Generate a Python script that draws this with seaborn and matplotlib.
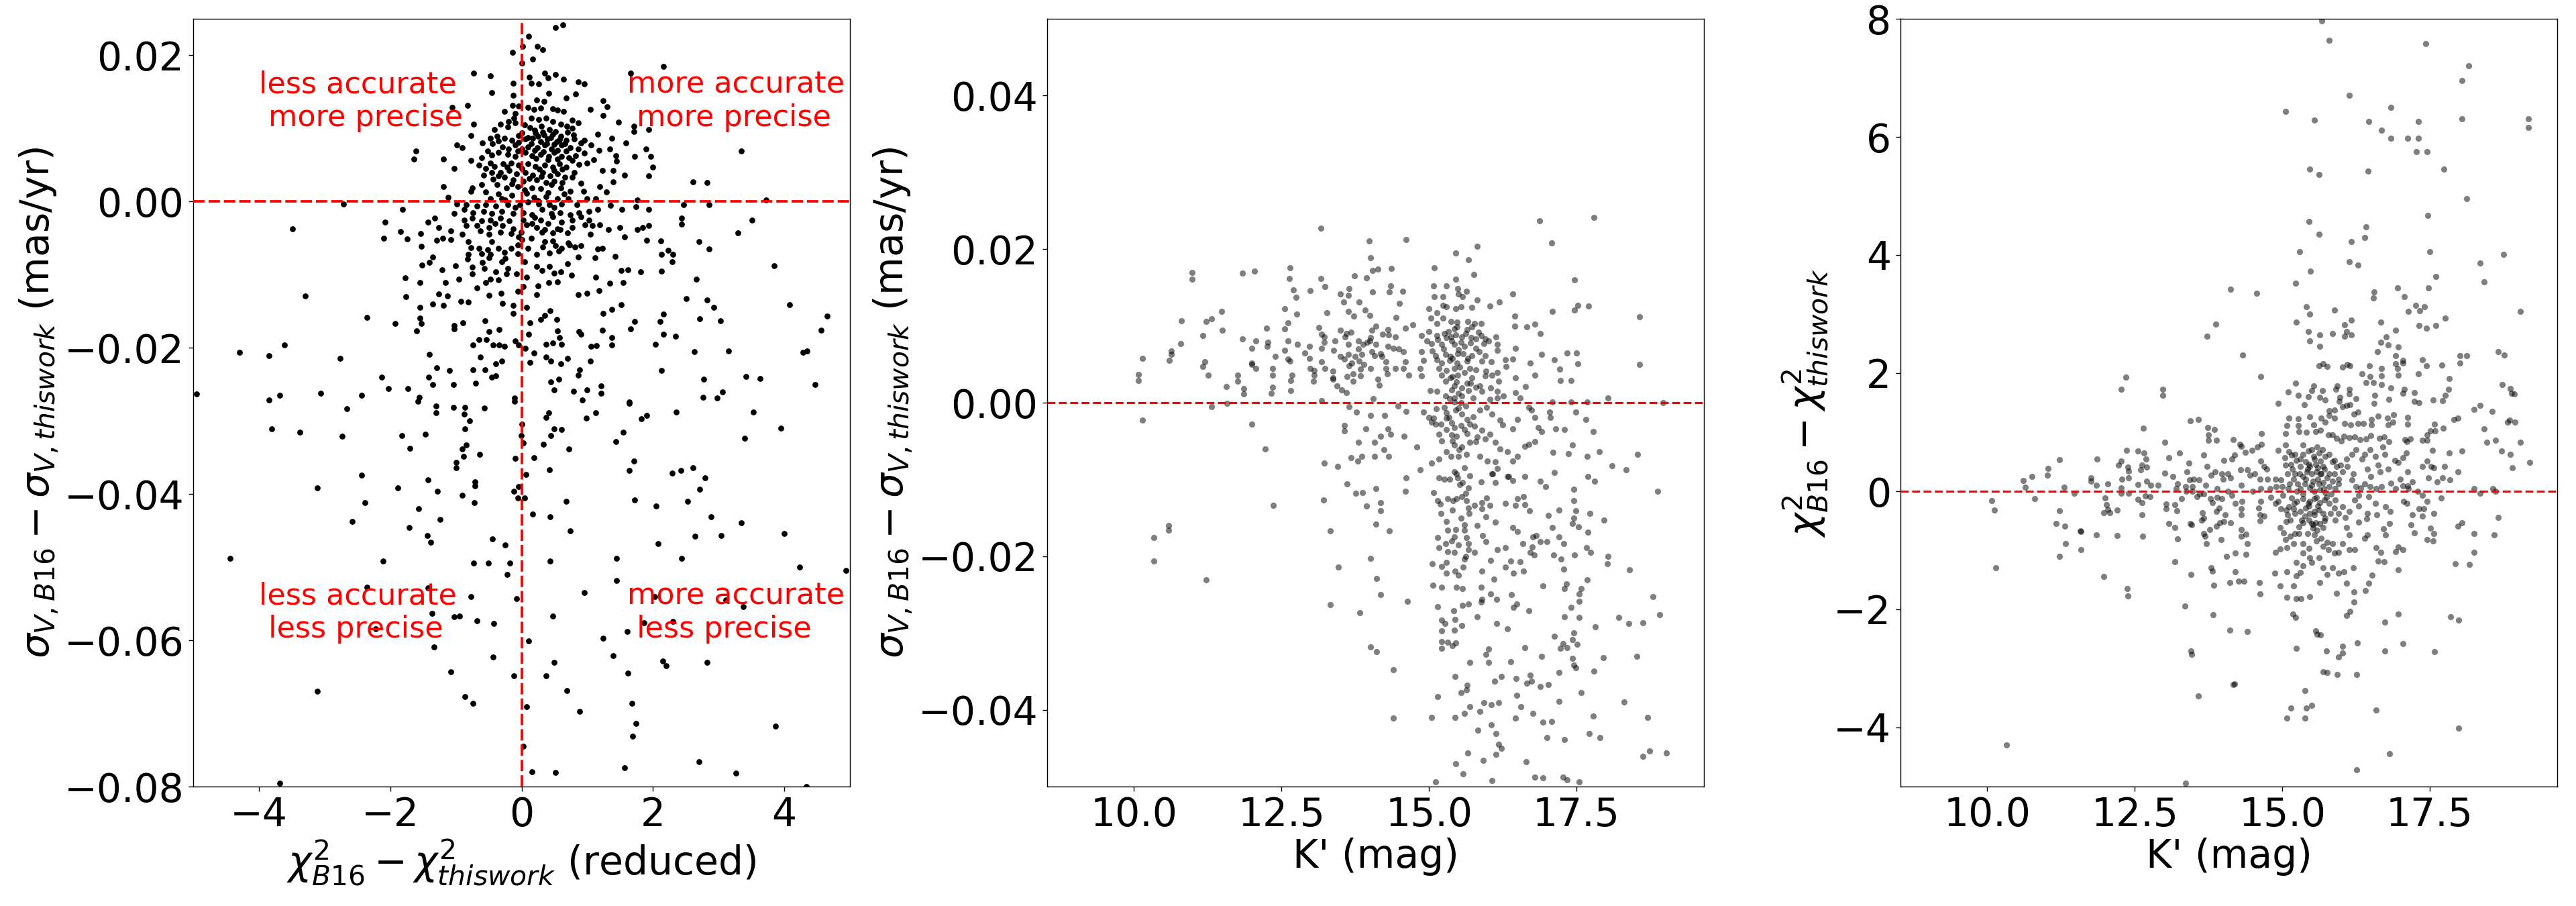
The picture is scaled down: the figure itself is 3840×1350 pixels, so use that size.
import matplotlib
matplotlib.use("Agg")
import matplotlib.pyplot as plt
import seaborn as sns
import pandas as pd

# ---------------- data ----------------
# Panel 1: (chi2_B16 - chi2_thiswork, sigma_B16 - sigma_thiswork)
p1_points = [
(0.63,0.0242),(0.52,0.0238),(0.11,0.0226),(0.02,0.0212),(0.24,0.0212),(0.32,0.0208),(-0.14,0.0204),(0.17,0.0195),(0.0,0.0189),(2.16,0.0185),
(-0.73,0.0176),(-0.47,0.0172),(0.35,0.0176),(0.52,0.0174),(1.66,0.0176),(0.12,0.0170),(0.64,0.0167),(0.86,0.0164),(0.96,0.0161),(-0.13,0.0162),
(0.15,0.0162),(0.26,0.0161),(0.4,0.0169),(-0.45,0.0149),(0.41,0.0148),(0.82,0.0147),(-0.13,0.0145),(0.23,0.0139),(0.34,0.0137),(0.68,0.0142),
(1.24,0.0138),(-0.82,0.0132),(-1.06,0.0129),(-0.14,0.0132),(-0.05,0.0131),(0.1,0.0129),(0.19,0.0126),(0.29,0.0128),(0.47,0.0127),(0.55,0.0125),
(1.05,0.0126),(1.3,0.0130),(-0.26,0.0123),(-0.1,0.0121),(0.64,0.0123),(1.24,0.0118),(-0.12,0.0114),(0.15,0.0114),(0.26,0.0112),(0.37,0.0114),
(0.48,0.0110),(0.6,0.0106),(0.77,0.0111),(0.86,0.0108),(1.48,0.0109),(-0.73,0.0106),(-0.32,0.0106),(-0.21,0.0102),(-0.1,0.0108),(0.13,0.0101),
(0.3,0.0103),(0.42,0.0099),(0.69,0.0103),(0.77,0.0100),(1.71,0.0103),(1.94,0.0099),(1.71,0.0096),(-0.77,0.0090),(-0.41,0.0099),(0.0,0.0094),
(0.21,0.0094),(0.34,0.0091),(0.48,0.0092),(0.6,0.0089),(0.79,0.0091),(1.16,0.0092),(-0.48,0.0087),(-0.37,0.0089),(-0.26,0.0087),(-0.15,0.0084),
(0.06,0.0086),(0.17,0.0087),(0.29,0.0082),(0.39,0.0086),(0.54,0.0082),(0.68,0.0084),(0.9,0.0080),(1.37,0.0087),(1.59,0.0080),(-0.99,0.0077),
(-0.9,0.0074),(-0.44,0.0079),(-0.29,0.0075),(-0.1,0.0077),(0.1,0.0075),(0.24,0.0074),(0.35,0.0077),(0.45,0.0072),(0.61,0.0077),(0.74,0.0074),
(0.86,0.0072),(1.06,0.0077),(1.18,0.0070),(1.34,0.0072),(1.89,0.0072),(3.35,0.0069),(-1.61,0.0069),(-1.64,0.0058),(-1.19,0.0058),(-0.61,0.0060),
(-0.52,0.0069),(-0.35,0.0067),(-0.21,0.0065),(-0.06,0.0069),(0.06,0.0067),(0.16,0.0063),(0.29,0.0065),(0.41,0.0062),(0.5,0.0067),(0.61,0.0062),
(0.72,0.0060),(0.82,0.0063),(1.0,0.0053),(1.1,0.0057),(1.44,0.0063),(1.72,0.0062),(1.97,0.0062),(-0.77,0.0056),(-0.48,0.0053),(-0.41,0.0048),
(-0.28,0.0052),(-0.16,0.0053),(-0.05,0.0050),(0.1,0.0052),(0.21,0.0048),(0.35,0.0050),(0.47,0.0047),(0.58,0.0052),(0.68,0.0047),(0.87,0.0051),
(1.45,0.0055),(-1.03,0.0045),(-0.55,0.0045),(-0.32,0.0040),(-0.19,0.0043),(-0.08,0.0038),(0.06,0.0040),(0.17,0.0036),(0.32,0.0040),(0.43,0.0035),
(0.55,0.0038),(0.66,0.0033),(1.23,0.0043),(1.39,0.0043),(2.0,0.0047),(-0.58,0.0036),(-0.43,0.0031),(-0.26,0.0033),(-0.13,0.0030),(0.03,0.0028),
(0.23,0.0030),(0.37,0.0026),(0.5,0.0028),(0.77,0.0033),(1.57,0.0036),(1.94,0.0035),(2.61,0.0027),(2.82,0.0026),(-1.19,0.0021),(-0.75,0.0019),
(-0.61,0.0023),(-0.37,0.0023),(-0.23,0.0019),(-0.06,0.0021),(0.16,0.0019),(0.29,0.0018),(0.45,0.0023),(0.6,0.0019),(0.74,0.0014),(0.94,0.0014),
(1.19,0.0021),(1.29,0.0013),(1.39,0.0027),(-0.77,0.0014),(-0.55,0.0013),(-0.48,0.0004),(-0.3,0.0004),(-0.15,0.0009),(0.08,0.0011),(0.19,0.0006),
(0.37,0.0007),(0.55,0.0004),(0.71,0.0004),(1.0,0.0004),(-1.12,0.0006),(-0.99,-0.0003),(-0.84,-0.0004),(-0.68,-0.0006),(-0.55,-0.0004),(-0.39,-0.0006),
(-0.21,-0.0004),(-0.03,-0.0004),(0.1,-0.0001),(0.26,-0.0003),(0.42,-0.0004),(0.61,-0.0003),(0.84,-0.0004),(1.13,0.0004),(1.76,0.0002),(3.72,0.0002),
(-2.71,-0.0003),(2.47,-0.0004),(2.85,-0.0004),(1.35,-0.0005),(1.74,-0.0007),(-1.81,-0.0011),(-1.03,-0.0016),(-0.87,-0.0011),(-0.74,-0.0015),(-0.58,-0.0013),
(-0.45,-0.0016),(-0.3,-0.0013),(-0.13,-0.0016),(0.03,-0.0015),(0.16,-0.0018),(0.31,-0.0011),(0.45,-0.0016),(0.59,-0.0015),(0.74,-0.0018),(0.87,-0.0015),
(1.03,-0.0013),(1.16,-0.0011),(1.53,-0.0011),(1.94,-0.0011),(-2.08,-0.0028),(-1.43,-0.0028),(-1.32,-0.0023),(-0.87,-0.0025),(-0.75,-0.0023),(-0.61,-0.0026),
(-0.48,-0.0025),(-0.32,-0.0023),(-0.19,-0.0026),(0.03,-0.0025),(0.16,-0.0030),(0.29,-0.0025),(0.48,-0.0021),(0.61,-0.0028),(0.77,-0.0025),(0.9,-0.0021),
(1.03,-0.0025),(2.44,-0.0023),(3.51,-0.0025),(-3.49,-0.0037),(-1.26,-0.0035),(-0.84,-0.0033),(-0.68,-0.0033),(-0.5,-0.0035),(-0.29,-0.0033),(-0.13,-0.0037),
(0.08,-0.0032),(0.23,-0.0035),(0.35,-0.0038),(0.55,-0.0037),(0.77,-0.0035),(0.97,-0.0032),(1.08,-0.0033),(1.19,-0.0032),(1.5,-0.0035),(1.84,-0.0035),
(1.94,-0.0033),(2.44,-0.0031),(-1.84,-0.0041),(-1.54,-0.0044),(-1.08,-0.0040),(-0.63,-0.0040),(-0.5,-0.0045),(-0.32,-0.0042),(-0.16,-0.0044),(-0.01,-0.0042),
(0.31,-0.0042),(0.47,-0.0043),(0.59,-0.0038),(1.32,-0.0038),(1.76,-0.0038),(3.29,-0.0043),(-2.1,-0.0050),(-1.74,-0.0051),(-1.29,-0.0053),(-1.2,-0.0050),
(-1.08,-0.0052),(-0.81,-0.0055),(0.0,-0.0052),(0.48,-0.0054),(0.71,-0.0057),(1.57,-0.0048),(1.9,-0.0053),(2.12,-0.0054),(2.7,-0.0055),(-1.53,-0.0061),
(-0.77,-0.0063),(-0.65,-0.0064),(-0.52,-0.0066),(-0.35,-0.0064),(-0.16,-0.0064),(-0.06,-0.0059),(0.32,-0.0062),(0.52,-0.0060),(0.61,-0.0064),(0.73,-0.0059),
(0.81,-0.0062),(0.9,-0.0060),(1.16,-0.0065),(1.23,-0.0064),(2.86,-0.0065),(-0.81,-0.0072),(-0.61,-0.0071),(-0.47,-0.0072),(-0.26,-0.0069),(-0.06,-0.0071),
(0.23,-0.0072),(0.42,-0.0070),(0.57,-0.0068),(2.13,-0.0072),(2.23,-0.0067),(2.3,-0.0072),(-1.35,-0.0076),(-0.82,-0.0079),(-0.5,-0.0077),(-0.3,-0.0082),
(0.86,-0.0076),(1.12,-0.0077),(1.42,-0.0075),(2.29,-0.0082),(-1.52,-0.0087),(-1.4,-0.0083),(-1.21,-0.0093),(-1.01,-0.0088),(-0.75,-0.0090),(-0.57,-0.0091),
(-0.39,-0.0096),(-0.21,-0.0091),(-0.08,-0.0099),(0.23,-0.0089),(0.31,-0.0094),(0.42,-0.0089),(0.5,-0.0098),(0.6,-0.0096),(0.76,-0.0101),(1.52,-0.0094),
(1.62,-0.0093),(1.81,-0.0096),(2.13,-0.0095),(3.85,-0.0088),(-1.77,-0.0104),(-1.55,-0.0111),(-1.16,-0.0111),(-0.95,-0.0106),(-0.75,-0.0099),(-0.55,-0.0111),
(-0.47,-0.0106),(-0.35,-0.0107),(-0.23,-0.0099),(0.08,-0.0103),(0.25,-0.0115),(0.41,-0.0111),(0.55,-0.0110),(1.13,-0.0103),(1.55,-0.0111),(2.66,-0.0106),
(-1.76,-0.0130),(-1.26,-0.0126),(-1.13,-0.0129),(-0.68,-0.0118),(-0.5,-0.0128),(-0.31,-0.0125),(-0.06,-0.0123),(0.03,-0.0116),(0.23,-0.0127),(0.86,-0.0127),
(1.0,-0.0125),(1.18,-0.0122),(1.34,-0.0112),(2.51,-0.0133),(2.82,-0.0135),(-3.29,-0.0129),(-1.55,-0.0145),(-1.35,-0.0140),(-1.19,-0.0142),(-0.92,-0.0136),
(-0.81,-0.0137),(-0.29,-0.0139),(-0.13,-0.0142),(0.08,-0.0145),(0.43,-0.0149),(1.37,-0.0147),(1.52,-0.0141),(2.93,-0.0145),(4.08,-0.0141),(-2.35,-0.0158),
(-1.93,-0.0167),(-1.55,-0.0159),(-1.53,-0.0167),(-1.03,-0.0169),(-0.89,-0.0166),(-0.56,-0.0163),(-0.13,-0.0153),(0.13,-0.0166),(0.29,-0.0161),(0.35,-0.0156),
(0.54,-0.0161),(1.24,-0.0153),(1.72,-0.0164),(2.11,-0.0164),(2.16,-0.0154),(2.71,-0.0160),(3.03,-0.0163),(4.65,-0.0157),(-1.6,-0.0177),(-1.03,-0.0174),
(-0.5,-0.0178),(-0.34,-0.0175),(0.11,-0.0181),(0.55,-0.0177),(0.87,-0.0178),(0.9,-0.0181),(1.23,-0.0176),(1.66,-0.0174),(4.56,-0.0176),(-3.61,-0.0196),
(-4.3,-0.0206),(-3.85,-0.0211),(-2.76,-0.0214),(-1.4,-0.0209),(-0.74,-0.0196),(-0.65,-0.0189),(-0.54,-0.0189),(-0.43,-0.0196),(-0.34,-0.0196),(-0.26,-0.0198),
(-0.1,-0.0191),(-0.05,-0.0196),(0.06,-0.0201),(0.13,-0.0220),(0.19,-0.0207),(0.37,-0.0195),(0.48,-0.0193),(0.61,-0.0195),(0.58,-0.0186),(0.37,-0.0213),
(0.44,-0.0218),(0.6,-0.0222),(0.7,-0.0214),(1.06,-0.0198),(1.14,-0.0197),(1.37,-0.0186),(1.37,-0.0196),(1.05,-0.0218),(2.04,-0.0195),(2.34,-0.0184),
(2.16,-0.0181),(2.63,-0.0205),(3.15,-0.0204),(4.29,-0.0206),(4.35,-0.0204),(2.13,-0.0231),(-0.63,-0.0213),(-0.3,-0.0218),(-0.39,-0.0222),(-0.56,-0.0230),
(-0.74,-0.0230),(-1.1,-0.0231),(-1.29,-0.0227),(-1.41,-0.0240),(-2.13,-0.0240),(-2.03,-0.0256),(-1.73,-0.0256),(-1.35,-0.0250),(-1.04,-0.0250),(-0.7,-0.0248),
(-0.45,-0.0240),(-0.39,-0.0238),(0.86,-0.0237),(0.88,-0.0230),(0.44,-0.0247),(0.57,-0.0243),(0.5,-0.0258),(0.79,-0.0259),(1.0,-0.0258),(1.21,-0.0252),
(1.21,-0.0262),(2.77,-0.0243),(3.42,-0.0239),(3.63,-0.0242),(4.47,-0.0250),(3.06,-0.0260),(2.98,-0.0269),(2.76,-0.0268),(-4.95,-0.0263),(-3.68,-0.0265),
(-3.85,-0.0271),(-3.06,-0.0262),(-2.44,-0.0265),(-1.56,-0.0268),(-0.11,-0.0269),(0.92,-0.0271),(1.64,-0.0274),
(-2.66,-0.0283),(-1.3,-0.0280),(-1.3,-0.0289),(-1.04,-0.0281),(-0.86,-0.0281),(-0.57,-0.0282),(-1.58,-0.0273),(-0.87,-0.0291),(-0.79,-0.0300),(-0.11,-0.0273),
(0.41,-0.0289),(0.37,-0.0295),(0.99,-0.0296),(1.13,-0.0289),(1.64,-0.0276),(1.82,-0.0297),(1.9,-0.0292),(2.35,-0.0288),(3.53,-0.0288),(-3.8,-0.0311),
(-3.38,-0.0315),(-2.73,-0.0321),(-1.82,-0.0320),(-1.47,-0.0318),(-0.86,-0.0311),(0.01,-0.0304),(-0.01,-0.0320),(0.03,-0.0330),(0.33,-0.0332),(0.44,-0.0320),
(0.5,-0.0311),(0.61,-0.0312),(1.55,-0.0315),(1.44,-0.0328),(3.95,-0.0310),(3.4,-0.0324),(-1.7,-0.0337),(-0.9,-0.0338),(-0.84,-0.0333),(-0.88,-0.0348),
(-0.64,-0.0346),(-0.1,-0.0351),(0.19,-0.0350),(0.72,-0.0338),(1.71,-0.0355),(-1.0,-0.0357),(-1.0,-0.0364),(-2.44,-0.0374),(-1.42,-0.0381),(-0.71,-0.0383),
(-0.71,-0.0389),(0.07,-0.0373),(0.42,-0.0367),(1.64,-0.0368),(2.29,-0.0371),(2.43,-0.0368),(2.61,-0.0364),(2.79,-0.0378),(2.71,-0.0393),(-3.11,-0.0392),
(-1.88,-0.0392),(-1.28,-0.0396),(-0.9,-0.0402),(-0.72,-0.0412),(-0.12,-0.0396),(-0.05,-0.0390),(-0.06,-0.0405),(0.05,-0.0405),(0.68,-0.0410),(1.72,-0.0408),
(2.05,-0.0416),(2.53,-0.0410),(-2.39,-0.0412),(-1.57,-0.0420),(-1.24,-0.0435),(-2.58,-0.0437),(-1.71,-0.0446),(0.17,-0.0427),(0.43,-0.0431),(0.74,-0.0450),
(2.89,-0.0431),(3.35,-0.0439),(-1.44,-0.0457),(-1.38,-0.0466),(2.64,-0.0458),(3.04,-0.0457),(4.0,-0.0454),(2.08,-0.0468),(-0.44,-0.0461),(-0.25,-0.0470),
(-4.44,-0.0488),(-2.11,-0.0492),(-0.73,-0.0494),(-0.51,-0.0494),(-0.18,-0.0494),(0.43,-0.0492),(1.45,-0.0488),(2.44,-0.0488),(4.23,-0.0500),(4.94,-0.0504),
(-0.22,-0.0510),(1.45,-0.0518),(-2.35,-0.0527),(-1.42,-0.0528),(-0.77,-0.0540),(-0.08,-0.0543),(0.95,-0.0535),(2.03,-0.0540),(3.11,-0.0545),(3.38,-0.0554),
(-1.36,-0.0563),(-1.03,-0.0568),(-0.94,-0.0567),(-0.68,-0.0573),(-0.42,-0.0577),(0.47,-0.0567),(1.86,-0.0576),(2.3,-0.0574),(1.61,-0.0588),(-2.22,-0.0584),
(1.24,-0.0597),(0.11,-0.0601),(-1.33,-0.0609),(1.39,-0.0621),(-0.43,-0.0623),(0.5,-0.0630),(2.15,-0.0628),(2.2,-0.0635),(2.82,-0.0630),(-1.08,-0.0643),
(-0.12,-0.0649),(0.37,-0.0649),(1.62,-0.0645),(-3.11,-0.0670),(-0.86,-0.0677),(-0.74,-0.0686),(0.69,-0.0669),(0.08,-0.0691),(0.88,-0.0697),(1.68,-0.0686),
(1.74,-0.0714),(1.69,-0.0731),(3.87,-0.0717),(0.03,-0.0745),(2.7,-0.0766),(1.57,-0.0774),(0.16,-0.0780),(0.52,-0.0781),(3.26,-0.0782),(-3.68,-0.0795),
(4.34,-0.0800),
]
# Panel 1, extra points filling the dense core
p1_core_points = [
(-0.2,0.0110),(0.05,0.0105),(0.2,0.0098),(0.32,0.0095),(0.52,0.0096),(0.7,0.0095),(-0.05,0.0090),(0.1,0.0088),(0.25,0.0089),(0.44,0.0088),
(0.58,0.0085),(0.8,0.0086),(-0.35,0.0083),(-0.05,0.0081),(0.15,0.0079),(0.38,0.0079),(0.5,0.0078),(0.66,0.0079),(0.95,0.0084),(-0.6,0.0080),
(-0.2,0.0072),(0.0,0.0072),(0.2,0.0070),(0.33,0.0068),(0.55,0.0070),(0.68,0.0069),(0.95,0.0066),(-0.45,0.0064),(-0.1,0.0062),(0.22,0.0059),
(0.4,0.0057),(0.55,0.0058),(0.77,0.0056),(-0.65,0.0050),(-0.22,0.0047),(0.0,0.0045),(0.27,0.0044),(0.5,0.0043),(0.62,0.0044),(0.8,0.0040),
(-0.45,0.0040),(-0.35,0.0035),(0.12,0.0032),(0.3,0.0034),(0.62,0.0026),(0.9,0.0025),(-0.15,0.0024),(0.05,0.0016),(0.4,0.0012),(-0.35,0.0010),
(0.65,0.0010),(0.25,0.0001),(-0.25,0.0002),(0.5,-0.0008),(-0.1,-0.0008),(0.2,-0.0022),(-0.4,-0.0030),(0.4,-0.0030),(0.7,-0.0043),(-0.05,-0.0048),
(0.15,-0.0050),(-0.45,-0.0055),(0.35,-0.0055),(1.05,-0.0045),(-0.9,-0.0045),(0.1,-0.0064),(-0.25,-0.0078),(0.05,-0.0082),(0.7,-0.0085),(-0.6,-0.0083),
]

# Panel 2: (K' mag, sigma_B16 - sigma_thiswork)
p2_points = [
(17.79,0.0241),(16.87,0.0237),(13.17,0.0227),(17.08,0.0208),(14.61,0.0212),(13.99,0.0211),(15.82,0.0204),(15.45,0.0195),(14.01,0.0189),(15.67,0.0186),
(15.09,0.0176),(12.64,0.0176),(14.04,0.0172),(14.14,0.0174),(14.36,0.0175),(10.99,0.0170),(10.99,0.0161),(11.84,0.0169),(12.04,0.0171),(12.63,0.0162),
(13.17,0.0162),(15.76,0.0167),(17.47,0.0160),(13.74,0.0165),(13.94,0.0163),(15.45,0.0161),(15.08,0.0152),(15.3,0.0152),(15.49,0.0149),(13.24,0.0151),
(13.65,0.0149),(14.35,0.0152),(12.7,0.0147),(12.99,0.0146),(14.04,0.0144),(14.33,0.0144),(14.56,0.0145),(16.42,0.0142),(13.5,0.0142),(13.63,0.0140),
(15.09,0.0138),(15.24,0.0138),(15.5,0.0142),(15.64,0.0145),(12.75,0.0137),(15.57,0.0138),(15.82,0.0134),(13.55,0.0131),(13.82,0.0131),(14.5,0.0129),
(16.03,0.0126),(16.19,0.0131),(15.24,0.0127),(15.3,0.0125),(15.54,0.0125),(15.73,0.0124),(17.52,0.0127),(17.71,0.0126),(12.55,0.0122),(13.63,0.0119),
(13.92,0.0121),(15.0,0.0122),(15.45,0.0122),(17.47,0.0121),(11.49,0.0119),(13.27,0.0117),(13.73,0.0113),(14.0,0.0114),(15.14,0.0117),(17.09,0.0119),
(12.76,0.0115),(14.44,0.0111),(16.45,0.0113),(18.57,0.0112),(10.8,0.0107),(11.22,0.0106),(11.31,0.0109),(15.03,0.0110),(15.24,0.0110),(15.37,0.0106),
(15.48,0.0105),(15.66,0.0106),(15.77,0.0103),(15.89,0.0103),(15.13,0.0103),(12.61,0.0104),(16.79,0.0102),(16.45,0.0100),(16.66,0.0099),(12.25,0.0097),
(12.55,0.0096),(13.13,0.0098),(13.5,0.0094),(14.03,0.0094),(14.21,0.0089),(14.32,0.0088),(14.43,0.0086),(14.6,0.0097),(14.73,0.0101),(11.5,0.0094),
(14.87,0.0087),(15.13,0.0087),(15.26,0.0090),(15.33,0.0093),(15.43,0.0096),(15.48,0.0099),(15.65,0.0095),(15.73,0.0099),(15.84,0.0092),(15.89,0.0087),
(16.89,0.0090),(16.14,0.0086),(11.17,0.0087),(10.79,0.0077),(11.84,0.0083),(13.18,0.0089),(13.22,0.0086),(13.58,0.0086),(13.68,0.0092),(14.01,0.0085),
(14.97,0.0080),(15.04,0.0077),(15.37,0.0086),(15.56,0.0086),(15.71,0.0085),(15.95,0.0083),(16.01,0.0080),(16.16,0.0076),(12.61,0.0080),(12.06,0.0080),
(12.27,0.0079),(12.77,0.0076),(12.98,0.0073),(13.22,0.0079),(13.41,0.0080),(13.63,0.0076),(13.8,0.0080),(13.89,0.0076),(13.95,0.0079),(14.1,0.0076),
(14.3,0.0073),(14.4,0.0071),(14.49,0.0070),(15.21,0.0076),(15.43,0.0076),(15.6,0.0073),(15.79,0.0071),(15.93,0.0077),(16.47,0.0071),(17.34,0.0065),
(17.5,0.0065),(10.63,0.0067),(10.63,0.0063),(10.14,0.0058),(10.6,0.0055),(12.0,0.0071),(12.26,0.0073),(12.55,0.0068),(13.18,0.0071),(13.39,0.0068),
(13.63,0.0063),(13.75,0.0060),(13.86,0.0063),(14.03,0.0066),(14.08,0.0061),(14.18,0.0064),(14.57,0.0066),(14.87,0.0066),(15.06,0.0067),(15.11,0.0061),
(15.28,0.0063),(15.36,0.0060),(15.49,0.0064),(15.73,0.0061),(15.95,0.0061),(16.16,0.0068),(16.91,0.0063),(17.13,0.0056),(11.2,0.0053),(12.0,0.0052),
(12.61,0.0057),(12.64,0.0054),(12.98,0.0058),(13.18,0.0053),(13.57,0.0057),(13.69,0.0052),(13.82,0.0054),(14.27,0.0053),(14.6,0.0053),(14.91,0.0055),
(15.13,0.0056),(15.21,0.0052),(15.35,0.0055),(15.48,0.0052),(15.65,0.0054),(15.9,0.0054),(16.06,0.0053),(16.29,0.0056),(16.71,0.0052),(16.42,0.0057),
(17.52,0.0051),(18.57,0.0050),(11.17,0.0047),(12.0,0.0050),(12.06,0.0045),(12.35,0.0045),(12.99,0.0045),(13.06,0.0042),(13.24,0.0045),(13.37,0.0041),
(13.65,0.0048),(13.84,0.0044),(14.01,0.0045),(14.27,0.0045),(14.43,0.0045),(14.57,0.0045),(14.85,0.0045),(15.17,0.0045),(15.3,0.0042),(15.43,0.0045),
(15.69,0.0045),(15.79,0.0043),(15.97,0.0041),(16.16,0.0039),(16.31,0.0047),(17.22,0.0044),(10.08,0.0037),(11.26,0.0036),(11.76,0.0036),(12.35,0.0036),
(12.68,0.0036),(13.05,0.0036),(13.37,0.0032),(13.61,0.0034),(13.71,0.0038),(13.84,0.0035),(14.14,0.0031),(14.29,0.0038),(14.66,0.0036),(14.87,0.0035),
(15.21,0.0036),(15.36,0.0032),(15.49,0.0036),(15.73,0.0032),(15.95,0.0035),(16.07,0.0036),(16.8,0.0036),(16.46,0.0032),(10.08,0.0029),(12.66,0.0029),
(13.04,0.0028),(13.37,0.0031),(13.71,0.0028),(15.28,0.0028),(15.47,0.0027),(15.65,0.0025),(15.86,0.0022),(16.18,0.0028),(17.23,0.0029),(17.41,0.0029),
(11.76,0.0028),(12.35,0.0020),(12.66,0.0016),(12.33,0.0012),(11.86,0.0018),(11.86,0.0011),(11.56,0.0021),(13.44,0.0022),(13.52,0.0017),(13.6,0.0013),
(14.16,0.0023),(15.02,0.0016),(15.14,0.0015),(15.38,0.0017),(15.43,0.0022),(15.56,0.0019),(15.67,0.0016),(15.8,0.0020),(15.9,0.0015),(16.05,0.0019),
(16.16,0.0015),(16.26,0.0009),(16.64,0.0021),(16.47,0.0013),(18.03,0.0006),(15.28,0.0009),(15.43,0.0006),(15.56,0.0009),(15.75,0.0006),(16.03,0.0004),
(16.16,0.0006),(16.55,0.0006),(14.06,0.0005),(13.18,0.0003),(15.54,0.0),(15.43,0.0001),(17.09,0.0001),(18.97,0.0),(17.41,0.0001),(17.68,0.0001),
(11.32,-0.0005),(11.58,-0.0001),(10.14,-0.0023),(12.0,-0.0028),(12.23,-0.0060),(13.57,-0.0030),(13.57,-0.0037),(13.65,-0.0005),(13.77,-0.0012),(14.01,-0.0017),
(14.25,-0.0017),(14.48,-0.0004),(14.61,-0.0011),(13.93,-0.0034),(14.3,-0.0034),(14.18,-0.0044),(14.35,-0.0041),(14.58,-0.0044),(14.91,-0.0012),(15.0,-0.0019),
(15.04,-0.0025),(15.11,-0.0028),(15.26,-0.0006),(15.3,-0.0013),(15.34,-0.0019),(15.39,-0.0026),(15.43,-0.0032),(15.5,-0.0007),(15.56,-0.0015),(15.65,-0.0022),
(15.69,-0.0028),(15.77,-0.0031),(15.6,-0.0035),(15.3,-0.0035),(15.17,-0.0041),(15.39,-0.0042),(15.47,-0.0044),(15.9,-0.0036),(16.03,-0.0041),(15.86,-0.0010),
(15.98,-0.0006),(16.07,-0.0015),(16.2,-0.0023),(16.25,-0.0029),(16.42,-0.0034),(16.5,-0.0022),(16.69,-0.0006),(16.74,-0.0010),(16.8,-0.0019),(16.85,-0.0032),
(16.91,-0.0038),(17.04,-0.0012),(17.06,-0.0019),(17.15,-0.0034),(17.3,-0.0035),(17.49,-0.0012),(17.66,-0.0022),(17.78,-0.0038),(15.21,-0.0050),(15.43,-0.0055),
(15.56,-0.0058),(15.69,-0.0052),(15.79,-0.0051),(15.95,-0.0047),(16.12,-0.0052),(16.2,-0.0060),(16.33,-0.0064),(16.5,-0.0070),(16.63,-0.0057),(16.69,-0.0054),
(16.8,-0.0051),(17.43,-0.0055),(17.1,-0.0065),(17.36,-0.0066),(17.68,-0.0070),(17.89,-0.0064),(18.54,-0.0067),(18.1,-0.0082),(18.34,-0.0087),(13.8,-0.0052),
(14.08,-0.0052),(14.24,-0.0061),(13.86,-0.0070),(13.68,-0.0072),(13.79,-0.0076),(14.08,-0.0070),(14.32,-0.0070),(13.23,-0.0079),(13.45,-0.0083),(14.79,-0.0058),
(15.29,-0.0064),(15.37,-0.0070),(15.51,-0.0061),(15.64,-0.0067),(15.86,-0.0070),(15.99,-0.0076),(16.12,-0.0077),(16.42,-0.0076),(15.17,-0.0073),(15.04,-0.0079),
(14.85,-0.0087),(14.61,-0.0098),(15.43,-0.0090),(15.47,-0.0093),(15.69,-0.0095),(16.08,-0.0093),(16.16,-0.0086),(16.33,-0.0096),(16.63,-0.0096),(16.89,-0.0102),
(17.13,-0.0091),(17.69,-0.0096),(17.81,-0.0102),(18.87,-0.0115),
(14.6,-0.0115),(15.17,-0.0098),(15.26,-0.0100),(15.49,-0.0098),(15.57,-0.0104),(15.67,-0.0111),(15.88,-0.0103),(16.07,-0.0093),(16.13,-0.0104),(16.35,-0.0096),
(16.42,-0.0101),(16.98,-0.0109),(13.61,-0.0106),(13.76,-0.0118),(13.87,-0.0117),(14.1,-0.0112),(14.18,-0.0130),(14.18,-0.0141),(13.94,-0.0135),(15.08,-0.0117),
(15.15,-0.0128),(15.32,-0.0125),(15.41,-0.0128),(15.47,-0.0125),(15.56,-0.0122),(15.64,-0.0128),(15.19,-0.0132),(15.77,-0.0134),(15.9,-0.0130),(15.98,-0.0124),
(16.03,-0.0134),(16.29,-0.0131),(16.5,-0.0125),(16.6,-0.0122),(16.46,-0.0134),(16.63,-0.0133),(16.7,-0.0141),(15.67,-0.0137),(15.9,-0.0138),(15.96,-0.0149),
(15.68,-0.0144),(15.2,-0.0144),(17.02,-0.0147),(17.2,-0.0140),(17.45,-0.0128),(17.45,-0.0113),(17.49,-0.0141),(17.45,-0.0150),(17.43,-0.0157),(17.73,-0.0144),
(17.97,-0.0153),(12.36,-0.0134),(13.21,-0.0127),(13.33,-0.0167),(14.1,-0.0158),(14.33,-0.0167),(15.32,-0.0166),(15.6,-0.0159),(15.6,-0.0166),(15.82,-0.0160),
(16.12,-0.0156),(16.42,-0.0163),(16.5,-0.0168),(16.76,-0.0175),(16.82,-0.0173),(17.09,-0.0163),(17.2,-0.0175),(17.53,-0.0162),(17.69,-0.0169),(15.15,-0.0176),
(15.28,-0.0184),(15.43,-0.0175),(15.5,-0.0185),(15.64,-0.0176),(15.67,-0.0184),(15.91,-0.0173),(15.96,-0.0181),(16.59,-0.0184),(16.75,-0.0188),(16.89,-0.0181),
(17.0,-0.0181),(17.28,-0.0184),(15.17,-0.0189),(15.32,-0.0194),(15.43,-0.0195),(15.67,-0.0191),(15.77,-0.0195),(16.16,-0.0191),(16.29,-0.0189),(16.72,-0.0195),
(16.78,-0.0198),(17.11,-0.0198),(17.47,-0.0198),(17.67,-0.0189),(17.74,-0.0195),(18.03,-0.0200),(18.02,-0.0210),(18.4,-0.0218),(17.24,-0.0204),(15.06,-0.0210),
(15.21,-0.0213),(15.3,-0.0208),(15.3,-0.0222),(15.44,-0.0219),(15.6,-0.0204),(15.58,-0.0214),(15.9,-0.0219),(16.04,-0.0205),(16.1,-0.0230),(16.3,-0.0214),
(16.39,-0.0206),(16.43,-0.0222),(16.55,-0.0207),(16.6,-0.0219),(17.28,-0.0217),(14.01,-0.0203),(14.11,-0.0229),(13.46,-0.0214),(10.34,-0.0176),(10.34,-0.0206),
(10.59,-0.0160),(10.59,-0.0166),(11.22,-0.0231),(15.07,-0.0238),(15.21,-0.0240),(15.47,-0.0240),(15.57,-0.0242),(15.88,-0.0240),(16.05,-0.0249),(16.4,-0.0250),
(16.93,-0.0239),(17.3,-0.0242),(17.33,-0.0236),(17.58,-0.0242),(17.68,-0.0231),(14.18,-0.0250),(14.63,-0.0259),(13.33,-0.0263),(13.83,-0.0274),(15.15,-0.0266),
(15.42,-0.0271),(15.57,-0.0264),(15.67,-0.0262),(15.82,-0.0279),(15.88,-0.0260),(15.9,-0.0256),(16.15,-0.0256),(16.43,-0.0267),(16.49,-0.0262),(16.69,-0.0271),
(17.41,-0.0267),(17.54,-0.0259),(17.55,-0.0249),(17.3,-0.0279),(17.54,-0.0280),(17.82,-0.0292),(18.22,-0.0280),(18.39,-0.0288),(18.63,-0.0287),(18.91,-0.0276),
(18.8,-0.0253),(15.21,-0.0283),(15.27,-0.0288),(15.44,-0.0282),(15.56,-0.0290),(15.21,-0.0297),(15.43,-0.0296),(16.15,-0.0288),(16.33,-0.0295),(17.13,-0.0304),
(17.45,-0.0300),(17.43,-0.0309),(17.27,-0.0314),(17.51,-0.0315),(17.34,-0.0319),(17.23,-0.0320),(15.21,-0.0311),(15.32,-0.0312),(15.45,-0.0313),(15.21,-0.0320),
(15.4,-0.0316),(14.01,-0.0318),(14.11,-0.0324),(16.62,-0.0319),(16.01,-0.0321),(15.96,-0.0328),(16.91,-0.0330),(17.95,-0.0332),(18.52,-0.0330),(17.43,-0.0333),
(15.69,-0.0338),(16.01,-0.0338),(16.39,-0.0337),(17.45,-0.0342),(17.49,-0.0345),(17.79,-0.0350),(17.21,-0.0351),(14.4,-0.0348),(15.44,-0.0357),(16.23,-0.0357),
(16.48,-0.0359),(16.72,-0.0355),(16.11,-0.0363),(16.66,-0.0365),(16.74,-0.0363),(17.02,-0.0367),(16.89,-0.0370),(15.65,-0.0368),(15.63,-0.0374),(15.54,-0.0378),
(17.58,-0.0378),(15.15,-0.0383),(16.49,-0.0381),(17.2,-0.0389),(18.31,-0.0390),(15.69,-0.0396),(15.93,-0.0391),(16.06,-0.0393),(16.18,-0.0391),(16.56,-0.0396),
(16.76,-0.0405),(15.6,-0.0405),(15.86,-0.0402),(14.4,-0.0411),(15.04,-0.0410),(15.44,-0.0410),(16.47,-0.0411),(16.93,-0.0416),(17.08,-0.0415),(17.78,-0.0408),
(18.7,-0.0410),(16.06,-0.0420),(15.83,-0.0427),(16.14,-0.0431),(17.0,-0.0436),(17.3,-0.0439),(17.72,-0.0431),(17.9,-0.0436),(16.18,-0.0445),(16.23,-0.0450),
(15.66,-0.0456),(16.14,-0.0458),(15.92,-0.0466),(16.65,-0.0468),(15.45,-0.0470),(18.63,-0.0461),(18.74,-0.0454),(19.02,-0.0456),(15.58,-0.0483),(15.11,-0.0494),
(16.07,-0.0492),(16.8,-0.0488),(16.93,-0.0489),(17.27,-0.0488),(17.34,-0.0491),(17.55,-0.0494),
]
# Panel 2, extra points filling the dense clumps
p2_core_points = [
(15.3,0.0085),(15.38,0.0080),(15.45,0.0088),(15.55,0.0079),(15.62,0.0090),(15.7,0.0078),(15.8,0.0083),(15.5,0.0069),(15.58,0.0064),(15.4,0.0058),
(15.66,0.0058),(15.85,0.0066),(15.25,0.0070),(15.15,0.0082),(15.0,0.0093),(15.52,0.0046),(15.6,0.0039),(15.4,0.0034),(15.7,0.0025),(15.5,0.0012),
(15.35,0.0005),(15.62,-0.0004),(15.45,-0.0010),(15.3,-0.0020),(15.55,-0.0030),(15.65,-0.0040),(15.4,-0.0050),(15.2,-0.0028),(15.08,-0.0020),(15.12,-0.0008),
(15.75,-0.0018),(15.82,-0.0045),(15.5,-0.0070),(15.6,-0.0085),(15.35,-0.0100),(15.52,-0.0107),(15.62,-0.0118),(15.4,-0.0140),(15.55,-0.0150),(15.3,-0.0155),
(15.45,-0.0165),(15.62,-0.0200),(15.38,-0.0180),(15.5,-0.0225),(13.8,0.0070),(14.0,0.0080),(14.2,0.0060),(13.6,0.0090),(13.9,0.0050),(14.3,0.0095),
(13.5,0.0060),(12.9,0.0065),(12.4,0.0060),(14.1,0.0100),
]

# Panel 3: (K' mag, chi2_B16 - chi2_thiswork)
p3_points = [
(15.67,7.97),(15.79,7.64),(17.43,7.58),(18.16,7.21),(18.05,6.96),(15.06,6.43),(16.14,6.70),(16.84,6.50),(15.55,6.28),(16.47,6.26),
(16.68,6.11),(16.84,5.98),(17.12,5.98),(17.31,5.98),(17.31,6.26),(18.04,6.31),(19.17,6.31),(19.17,6.16),(17.27,5.75),(17.46,5.75),
(15.46,5.45),(15.62,5.36),(16.45,5.42),(17.74,5.45),(18.13,4.96),(15.45,4.57),(15.62,4.35),(17.47,4.67),(16.42,4.48),(16.40,4.30),
(16.17,4.23),(17.50,4.06),(15.29,4.06),(18.75,4.01),(16.14,3.89),(16.28,3.83),(18.35,3.86),(15.48,3.73),(17.60,3.64),(18.42,3.54),
(15.23,3.52),(16.95,3.44),(16.56,3.37),(14.12,3.42),(14.57,3.35),(17.41,3.13),(19.03,3.05),(17.48,3.44),
(10.33,-4.30),(13.36,-4.94),(16.26,-4.72),(16.82,-4.44),(17.99,-4.01),(15.08,-3.84),(15.39,-3.84),(15.41,-3.67),(15.50,-3.62),(15.15,-3.67),
(15.39,-3.38),(16.59,-3.70),(14.17,-3.27),(13.58,-3.47),
(10.08,-0.16),(10.12,-0.32),(10.14,-1.30),(10.61,0.18),(10.64,0.07),(10.76,0.25),(10.80,-0.12),(11.03,0.39),(11.02,0.27),(11.22,0.53),
(11.17,-0.54),(11.22,-0.33),(11.22,-1.10),(11.30,0.07),(11.31,-0.59),(11.33,-0.89),(11.48,-0.03),(11.58,-0.67),
(19.03,0.83),(19.19,0.49),(18.82,1.17),(18.89,1.66),
(16.55,3.27),(17.07,3.30),(17.26,3.15),(17.33,3.06),(17.14,3.04),(15.41,3.12),(15.47,3.00),(15.88,3.07),(17.76,2.93),(16.67,2.86),
(15.24,2.86),(16.17,2.90),(16.06,2.82),(17.32,2.81),(17.44,2.76),(17.60,2.81),(13.87,2.83),(13.72,2.62),(15.44,2.70),(15.64,2.65),
(15.85,2.67),(16.09,2.71),(16.17,2.65),(16.06,2.62),(16.92,2.73),(16.76,2.61),(15.47,2.54),(16.67,2.52),(16.80,2.48),(15.64,2.46),
(16.96,2.44),(16.61,2.36),(16.92,2.29),(17.04,2.22),(17.04,2.17),(16.92,2.16),(17.38,2.23),(17.44,2.13),(18.01,2.30),(18.13,2.30),
(18.66,2.36),(18.76,2.31),(18.01,2.17),(17.71,2.14),(14.33,2.31),(15.62,2.12),(15.69,2.16),(15.76,2.11),(16.02,2.10),(16.10,2.15),
(16.15,2.13),(16.48,2.12),(16.35,1.99),(16.49,1.94),(16.68,2.08),(16.68,1.95),(16.95,2.08),(16.96,1.97),(17.31,1.99),(17.83,1.91),
(16.42,1.84),(16.54,1.84),(16.68,1.81),(16.81,1.56),(16.84,1.75),(17.07,1.73),(17.24,1.67),(17.05,1.66),(16.57,1.62),(17.24,1.52),
(17.32,1.50),(17.56,1.54),(17.76,1.62),(17.82,1.73),(17.72,1.53),(18.73,1.81),(18.86,1.74),(18.93,1.65),(18.35,1.46),(18.25,1.39),
(18.56,1.35),(12.35,1.93),(12.27,1.73),(12.97,1.73),(12.97,1.62),(14.63,1.94),(15.23,1.83),(15.53,1.78),(15.50,1.70),(15.68,1.71),
(15.91,1.73),(16.14,1.73),(15.93,1.78),(15.10,1.68),(15.27,1.62),(15.44,1.60),(15.64,1.59),(15.73,1.55),(16.14,1.65),(16.25,1.57),
(15.98,1.59),(15.96,1.52),(14.93,1.49),(15.37,1.47),(16.56,1.49),(16.09,1.45),(16.15,1.47),(16.02,1.43),
(15.80,1.36),(15.88,1.38),(16.28,1.34),(16.22,1.31),(15.66,1.24),(15.80,1.28),(15.89,1.24),(15.73,1.17),(16.06,1.15),(16.16,1.13),
(16.28,1.15),(16.51,1.22),(16.62,1.27),(16.78,1.24),(16.80,1.12),(16.87,1.17),(16.89,1.30),(17.12,1.25),(17.12,1.14),(16.51,1.12),
(16.38,1.15),(15.11,1.24),(15.27,1.23),(15.47,1.26),(15.53,1.13),(15.65,1.03),(15.27,1.11),(15.08,1.11),(15.06,0.98),(15.28,1.01),
(15.41,1.00),(15.57,1.01),(15.78,0.96),(15.85,0.96),(15.92,0.90),(16.05,0.93),(16.14,0.91),(16.23,0.92),(16.32,0.88),(16.42,0.89),
(16.50,0.94),(16.65,0.90),(16.73,0.92),(16.81,0.84),(17.08,0.88),(17.11,0.84),(17.17,0.89),(17.37,0.86),(17.45,0.86),(17.46,0.96),
(17.51,1.02),(17.58,1.14),(17.59,1.02),(17.73,1.07),(17.91,1.22),(17.98,1.24),(18.42,1.06),(18.47,0.83),(18.61,0.86),(18.05,0.68),
(17.83,0.65),(17.55,0.69),(18.85,1.20),(18.94,1.17),(18.72,0.68),(18.86,0.63),(18.90,0.40),(12.65,1.07),(13.01,0.83),(13.44,1.19),
(13.58,1.22),(13.74,1.08),(13.85,1.04),(13.75,0.95),(13.75,0.86),(13.89,0.86),(14.17,0.88),(14.28,0.80),(14.31,0.76),(14.37,0.66),
(14.49,0.69),(14.58,0.75),(14.65,0.80),(14.65,0.98),
(12.36,0.69),(11.86,0.55),(12.23,0.44),(12.27,0.51),(12.38,0.41),(12.39,0.34),(12.56,0.68),(12.66,0.65),(12.69,0.54),(12.70,0.41),
(12.62,0.44),(12.60,0.36),(12.28,0.21),(12.39,0.23),(12.55,0.11),(12.70,0.17),(12.77,0.10),(11.76,0.23),(11.76,0.17),(11.85,0.10),
(12.04,0.12),(12.27,0.06),(12.27,-0.03),(12.39,-0.03),(12.68,-0.08),(12.76,-0.09),(12.00,-0.11),(12.02,-0.23),(12.04,-0.31),(12.08,-0.36),
(11.98,-0.36),(12.20,-0.32),(12.56,-0.14),(12.62,-0.19),(12.62,-0.40),(11.85,-0.74),(12.20,-0.75),(12.63,-0.76),(11.59,-0.99),(11.59,-0.68),
(11.97,-1.44),(12.37,-1.65),(12.38,-1.77),(13.08,0.57),(13.26,0.65),(13.01,0.31),(13.15,0.25),(13.22,0.12),(13.42,0.48),(13.39,0.33),
(13.43,0.19),(13.36,0.08),(13.48,0.08),(13.59,0.19),(13.67,0.61),(13.73,0.42),(13.79,0.27),(13.86,0.33),(13.90,0.04),(13.98,0.29),
(14.01,0.52),(14.08,0.29),(14.12,0.23),(14.15,0.54),(14.19,0.61),(14.29,0.36),(14.41,0.36),(14.45,0.27),(14.53,0.30),(14.62,0.21),
(14.63,0.51),(14.69,0.42),(14.74,0.38),(14.64,0.04),(14.93,0.69),(15.05,0.78),(15.11,0.67),(15.04,0.57),(15.06,0.44),(15.17,0.38),
(15.09,0.29),(15.22,0.63),(15.31,0.54),(15.35,0.78),(15.44,0.68),(15.53,0.59),(15.59,0.75),(15.62,0.65),(15.65,0.51),(15.69,0.42),
(15.73,0.59),(15.80,0.63),(15.88,0.52),(15.92,0.42),(15.99,0.44),(16.02,0.33),(16.10,0.42),(16.09,0.54),(16.18,0.63),(16.25,0.71),
(16.35,0.54),(16.40,0.63),(16.44,0.38),(16.49,0.71),(16.58,0.59),(16.62,0.44),(16.66,0.33),(16.74,0.63),(16.79,0.38),(16.91,0.52),
(16.96,0.49),(17.04,0.57),(17.10,0.65),(17.12,0.33),(17.20,0.16),(17.38,0.42),(17.45,0.51),(17.52,0.42),(17.48,0.23),(17.57,0.40),
(17.62,0.16),(17.72,0.23),(17.75,0.42),(17.84,0.19),(17.98,0.33),(18.25,0.05),(18.35,-0.03),(18.57,0.05),(18.61,0.00),
(15.16,0.61),(15.24,0.52),(15.31,0.42),(15.35,0.63),(15.40,0.50),(15.43,0.38),(15.47,0.42),(15.50,0.29),(15.52,0.17),(15.57,0.46),
(15.58,0.33),(15.60,0.21),(15.66,0.29),(15.69,0.15),(15.72,0.38),(15.76,0.23),(15.79,0.08),(15.85,0.17),(15.88,0.29),(15.90,0.04),
(15.95,0.12),(15.12,0.12),(15.19,0.21),(15.22,0.29),(15.26,0.12),(15.31,0.04),(15.35,0.25),(15.39,0.12),(15.46,0.06),(15.54,0.00),
(15.64,0.02),(15.73,-0.02),(15.83,-0.05),(14.98,0.19),(15.00,0.08),(14.88,0.21),(14.90,0.08),(14.79,0.04),(14.75,0.21),(16.18,0.19),
(16.25,0.08),(16.33,0.06),(16.40,0.12),(16.49,0.08),(16.59,0.04),(16.68,0.08),(16.84,0.14),(16.92,0.04),(17.04,0.09),(17.13,0.09),
(17.14,0.04),
(15.16,-0.11),(15.25,-0.17),(15.35,-0.13),(15.44,-0.21),(15.47,-0.17),(15.55,-0.13),(15.64,-0.19),(15.71,-0.15),(15.80,-0.21),(15.88,-0.28),
(15.11,-0.26),(15.19,-0.30),(15.31,-0.34),(15.40,-0.28),(15.47,-0.38),(15.54,-0.34),(15.62,-0.32),(15.69,-0.38),(15.73,-0.46),(15.82,-0.38),
(15.90,-0.49),(15.07,-0.32),(15.09,-0.40),(15.07,-0.51),(15.13,-0.49),(15.21,-0.38),(15.33,-0.49),(15.35,-0.53),(15.45,-0.49),(15.50,-0.55),
(15.57,-0.53),(15.59,-0.66),(15.64,-0.55),(15.69,-0.61),(15.52,-0.57),(14.93,-0.17),(14.98,-0.30),(14.88,-0.21),(15.01,-0.07),(14.64,-0.17),
(14.60,-0.28),(14.62,-0.40),(14.69,-0.42),(14.32,-0.17),(14.31,-0.29),(14.31,-0.40),(14.15,-0.07),(14.08,0.00),(13.98,-0.13),(14.03,-0.40),
(14.01,-0.51),(13.94,-0.53),(14.12,-0.53),(13.93,-0.28),(13.89,-0.34),(13.78,-0.13),(13.82,-0.19),(13.67,-0.05),(13.60,-0.05),(13.55,-0.09),
(13.65,-0.36),(13.67,-0.46),(13.63,-0.49),(13.46,-0.57),(13.44,-0.54),(13.29,-0.13),(13.18,-0.23),(13.21,-0.33),(13.03,-0.22),(13.03,-0.30),
(13.08,-0.55),(13.18,-0.61),(13.48,0.00),(13.37,0.00),(13.67,-0.72),(13.69,-0.76),(13.71,-0.89),(13.77,-0.65),(13.22,-0.81),(13.89,-0.59),
(13.96,-0.82),(14.05,-1.10),(14.20,-1.04),(14.38,-1.07),(14.31,-0.76),(14.38,-0.73),(14.31,-0.65),(14.41,-0.89),(14.62,-0.50),(14.88,-1.03),
(14.96,-0.61),(15.02,-0.70),(15.06,-0.82),(15.08,-0.95),(15.14,-0.76),(15.19,-0.89),(15.21,-0.72),(15.28,-0.72),(15.35,-0.89),(15.43,-0.72),
(15.45,-0.97),(15.54,-0.74),(15.58,-0.84),(15.66,-0.80),(15.69,-0.93),(15.76,-0.86),(15.78,-0.99),(15.85,-0.89),(15.88,-1.05),(15.95,-1.03),
(16.02,-0.89),(16.14,-0.74),(16.14,-0.99),(16.23,-0.99),(16.20,-1.30),(16.04,-1.36),(15.95,-1.39),(15.85,-1.30),(15.76,-1.41),(15.69,-1.29),
(15.63,-1.54),(15.47,-1.12),(15.50,-1.21),(15.35,-1.26),(15.31,-1.37),(15.24,-1.20),(15.24,-1.43),(15.08,-1.36),(14.87,-1.39),(14.96,-1.60),
(15.19,-1.60),(15.08,-1.79),(15.24,-1.82),(15.32,-1.82),(15.46,-1.78),(15.92,-1.73),(16.09,-1.56),(16.21,-1.71),(16.22,-1.87),(16.41,-1.68),
(16.46,-1.56),(16.52,-1.42),(16.63,-1.18),(16.73,-1.19),(16.92,-1.02),(16.97,-0.94),(17.04,-0.99),(16.97,-1.33),(16.59,-0.95),(16.67,-1.03),
(16.75,-0.74),(16.71,-0.64),(16.82,-0.54),(16.44,-0.74),(16.40,-0.80),(16.30,-0.52),(16.43,-0.47),(16.44,-0.38),(16.58,-0.21),(16.47,-0.09),
(16.30,-0.07),(16.23,-0.15),(16.14,-0.34),(16.02,-0.26),(15.95,-0.38),(16.07,-0.44),(16.09,-0.61),(16.75,-0.26),(16.83,-0.34),(17.06,-0.17),
(17.11,-0.21),(17.20,-0.40),(17.32,-0.30),(17.40,-0.30),(17.46,-0.17),(17.37,-0.07),(17.18,-0.57),(17.24,-0.71),(17.37,-0.42),(17.51,-0.63),
(17.57,-0.72),(17.56,-0.84),(17.46,-0.82),(17.57,-0.38),(17.69,-0.11),(17.98,-0.59),(18.05,-0.53),(18.25,-0.72),(18.59,-0.74),(18.66,-0.44),
(18.25,-1.03),(17.93,-1.23),(18.17,-1.24),(17.85,-2.13),(17.99,-2.18),(17.04,-2.58),(16.97,-2.08),(16.74,-2.22),(16.74,-2.70),(17.58,-2.72),
(16.27,-2.57),(16.02,-2.62),(16.02,-2.74),(15.95,-2.81),(15.75,-2.71),(15.24,-2.66),(15.69,-3.06),(15.76,-3.07),(15.93,-3.10),(16.26,-3.10),
(15.57,-2.36),(15.59,-2.42),(15.65,-2.43),(15.18,-2.08),(15.23,-2.14),(16.15,-2.03),(16.09,-2.10),(13.83,-2.09),(14.11,-2.35),(14.41,-2.38),
(13.35,-1.94),(13.45,-2.70),(13.46,-2.76),(14.19,-3.26),(14.62,-1.74),(14.61,-1.54),(14.26,-1.52),(14.35,-1.52),(14.11,-1.55),(13.84,-1.59),
(13.79,-1.29),(13.82,-1.35),(14.20,-1.36),(13.45,-1.41),(13.18,-1.19),(14.97,-0.98),(15.35,-1.05),(15.62,-1.12),
]
# Panel 3, extra points filling the dense core
p3_core_points = [
(15.3,0.3),(15.4,0.2),(15.5,0.1),(15.45,0.45),(15.55,0.55),(15.6,0.4),(15.65,0.3),(15.7,0.05),(15.35,-0.05),(15.45,-0.25),
(15.55,-0.4),(15.6,-0.25),(15.75,-0.1),(15.8,0.3),(15.25,0.0),(15.2,-0.2),(15.15,0.45),(15.5,0.7),(15.68,0.7),(15.85,0.5),
(15.38,-0.42),(15.58,-0.1),(15.62,0.12),(15.42,0.33),(15.52,-0.62),(15.28,-0.6),(15.72,-0.5),(15.9,-0.15),(15.95,0.2),(15.1,0.05),
(14.3,0.1),(14.0,0.2),(13.7,0.1),(13.9,-0.1),(14.2,-0.2),(13.5,0.2),(14.5,0.0),(14.8,-0.1),(13.2,0.05),(12.9,0.1),
(16.2,0.3),(16.5,0.25),(16.3,-0.25),(16.6,-0.4),(16.0,0.85),(16.7,0.75),(17.0,0.2),(17.3,0.0),
]

# axis settings
p1_xlim, p1_ylim = (-5, 5), (-0.08, 0.025)
p2_xlim, p2_ylim = (8.53, 19.66), (-0.05, 0.05)
p3_xlim, p3_ylim = (8.53, 19.66), (-5, 8)
p1_xticks = [-4, -2, 0, 2, 4]
p1_yticks = [-0.08, -0.06, -0.04, -0.02, 0.00, 0.02]
k_ticks = [10.0, 12.5, 15.0, 17.5]
p2_yticks = [-0.04, -0.02, 0.00, 0.02, 0.04]
p3_yticks = [-4, -2, 0, 2, 4, 6, 8]

quadrant_labels = ["less accurate\n more precise", "more accurate\n more precise",
                   "less accurate\n less precise", "more accurate\n less precise"]
quadrant_pos = [(-4.0, 0.01375), (1.61, 0.01375), (-4.0, -0.0562), (1.61, -0.0562)]

# ---------------- figure ----------------
plt.rcParams['font.family'] = ['DejaVu Sans']
plt.rcParams['mathtext.fontset'] = 'dejavusans'

df1 = pd.DataFrame(p1_points + p1_core_points, columns=["dchi", "dsig"])
df2 = pd.DataFrame(p2_points + p2_core_points, columns=["K", "dsig"])
df3 = pd.DataFrame(p3_points + p3_core_points, columns=["K", "dchi"])

W, H = 3840, 1350
fig = plt.figure(figsize=(W / 100, H / 100), dpi=100)

def rect(l, r, t, b):
    return [l / W, 1 - b / H, (r - l) / W, (b - t) / H]

ax1 = fig.add_axes(rect(288, 1267, 28, 1172))
ax2 = fig.add_axes(rect(1561, 2540, 28, 1172))
ax3 = fig.add_axes(rect(2833, 3812, 28, 1172))

FS = 42
sns.scatterplot(data=df1, x="dchi", y="dsig", ax=ax1, color="black", s=40,
                linewidth=0, legend=False)
sns.scatterplot(data=df2, x="K", y="dsig", ax=ax2, color="black", alpha=0.5,
                s=44, linewidth=0, legend=False)
sns.scatterplot(data=df3, x="K", y="dchi", ax=ax3, color="black", alpha=0.5,
                s=44, linewidth=0, legend=False)

ax1.axhline(0, color="red", lw=2.7, ls=(0, (4.5, 1.6)), zorder=5)
ax1.axvline(0, color="red", lw=2.7, ls=(0, (4.5, 1.6)), zorder=5)
ax2.axhline(0, color="red", lw=2.3, ls=(0, (3.7, 1.6)), zorder=5)
ax3.axhline(0, color="red", lw=2.3, ls=(0, (3.7, 1.6)), zorder=5)

for txt, (x, y) in zip(quadrant_labels, quadrant_pos):
    ax1.text(x, y, txt, color="red", fontsize=32, ha="left", va="center", zorder=6)

ax1.set_xlim(*p1_xlim); ax1.set_ylim(*p1_ylim)
ax2.set_xlim(*p2_xlim); ax2.set_ylim(*p2_ylim)
ax3.set_xlim(*p3_xlim); ax3.set_ylim(*p3_ylim)
ax1.set_xticks(p1_xticks); ax1.set_yticks(p1_yticks)
ax2.set_xticks(k_ticks); ax2.set_yticks(p2_yticks)
ax3.set_xticks(k_ticks); ax3.set_yticks(p3_yticks)
ax1.set_yticklabels([f"{v:.2f}".replace("-", "\u2212") for v in p1_yticks])
ax2.set_yticklabels([f"{v:.2f}".replace("-", "\u2212") for v in p2_yticks])
ax2.set_xticklabels([f"{v:.1f}" for v in k_ticks])
ax3.set_xticklabels([f"{v:.1f}" for v in k_ticks])

ax1.set_xlabel(r"$\chi^2_{B16} - \chi^2_{thiswork}$ (reduced)", fontsize=FS)
ax1.set_ylabel(r"$\sigma_{V,B16} - \sigma_{V,thiswork}$ (mas/yr)", fontsize=FS)
ax2.set_xlabel("K' (mag)", fontsize=FS)
ax2.set_ylabel(r"$\sigma_{V,B16} - \sigma_{V,thiswork}$ (mas/yr)", fontsize=FS)
ax3.set_xlabel("K' (mag)", fontsize=FS)
ax3.set_ylabel(r"$\chi^2_{B16} - \chi^2_{thiswork}$", fontsize=FS)

for ax in (ax1, ax2, ax3):
    ax.tick_params(labelsize=FS, length=5, width=1, pad=5)
    for sp in ax.spines.values():
        sp.set_linewidth(1.0)

fig.savefig("out.png", dpi=100)
